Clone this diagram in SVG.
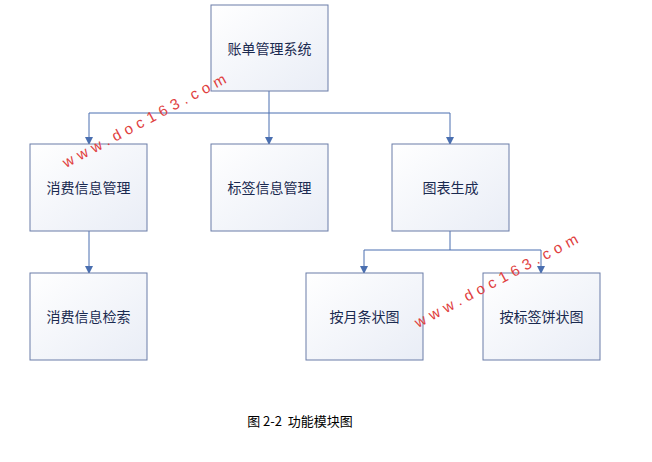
<svg xmlns="http://www.w3.org/2000/svg" width="652" height="462" viewBox="0 0 652 462">
<defs>
<linearGradient id="g" x1="0" y1="0" x2="1" y2="1"><stop offset="0" stop-color="#ffffff"/><stop offset="1" stop-color="#e9edf6"/></linearGradient>
<marker id="a" markerWidth="8" markerHeight="8" refX="7" refY="4" orient="auto" markerUnits="userSpaceOnUse"><path d="M0,0 L8,4 L0,8 Z" fill="#4a6fb0"/></marker>
</defs>
<style>
.n rect{fill:url(#g);stroke:#6a7ca8;stroke-width:1}
.n text{font-family:"Noto Sans CJK SC",sans-serif;font-size:14px;fill:#1a2a50;text-anchor:middle;dominant-baseline:central}
.c path{fill:none;stroke:#4a6fb0;stroke-width:1}
.w{font-family:"Liberation Sans",sans-serif;font-size:15px;fill:#e04040;letter-spacing:5px}
</style>
<rect width="652" height="462" fill="#fff"/>
<g class="c">
<path d="M269,91 V113 H89"/><path d="M269,113 H450"/>
<path d="M89,113 V144" marker-end="url(#a)"/><path d="M269,113 V144" marker-end="url(#a)"/><path d="M450,113 V144" marker-end="url(#a)"/>
<path d="M89,231 V273" marker-end="url(#a)"/>
<path d="M450,231 V250 H364 V273" marker-end="url(#a)"/><path d="M450,250 H541 V273" marker-end="url(#a)"/>
</g>
<g id="root" class="n"><rect x="211" y="5" width="117" height="86"/><text x="269.500" y="48">账单管理系统</text></g>
<g id="n1" class="n"><rect x="30" y="144" width="117" height="87"/><text x="88.500" y="187">消费信息管理</text></g>
<g id="n2" class="n"><rect x="211" y="144" width="117" height="87"/><text x="269.500" y="187">标签信息管理</text></g>
<g id="n3" class="n"><rect x="392" y="144" width="117" height="87"/><text x="450.500" y="187">图表生成</text></g>
<g id="n4" class="n"><rect x="30" y="273" width="117" height="87"/><text x="88.500" y="316">消费信息检索</text></g>
<g id="n5" class="n"><rect x="306" y="273" width="117" height="87"/><text x="364.500" y="316">按月条状图</text></g>
<g id="n6" class="n"><rect x="483" y="273" width="117" height="87"/><text x="541.500" y="316">按标签饼状图</text></g>
<text x="66" y="168" class="w" transform="rotate(-28 66 168)">www.doc163.com</text>
<text x="418" y="328" class="w" transform="rotate(-28 418 328)">www.doc163.com</text>
<text x="300" y="426" font-family="Noto Sans CJK SC,sans-serif" font-size="13" text-anchor="middle" fill="#000" xml:space="preserve">图 2-2  功能模块图</text>
</svg>
